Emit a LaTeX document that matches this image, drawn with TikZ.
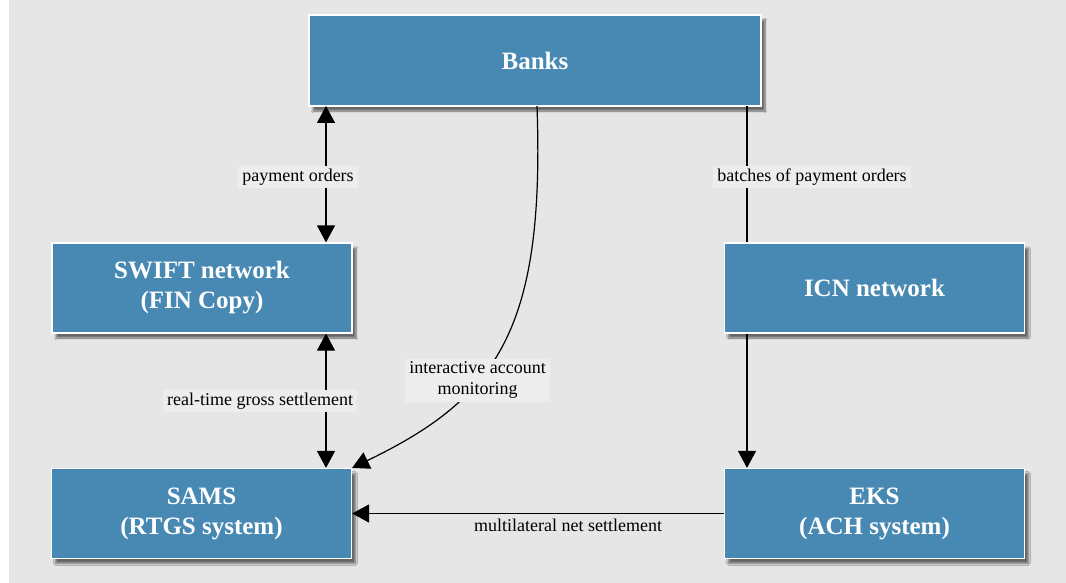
\documentclass[tikz,border=0pt]{standalone}
\usepackage{fontspec}
\setmainfont{Liberation Serif}
\usetikzlibrary{arrows.meta,shadows.blur}

\definecolor{boxblue}{HTML}{4889B4}
\definecolor{paper}{HTML}{E6E6E6}
\definecolor{labelbg}{HTML}{EDEDED}

\tikzset{
  sysbox/.style={draw=white, line width=1.2pt, fill=boxblue, text=white,
    font=\fontsize{25}{30}\selectfont\bfseries, align=center,
    minimum width=300pt, minimum height=90pt, inner sep=0pt,
    blur shadow={shadow xshift=4pt, shadow yshift=-5pt, shadow blur steps=8, shadow opacity=55}},
  edgelabel/.style={fill=labelbg, font=\fontsize{18}{21}\selectfont, align=center,
    inner xsep=4pt, inner ysep=3pt},
  link/.style={line width=1.2pt},
  tip/.style={-{Triangle[width=18pt,length=17pt]}},
  bothtips/.style={{Triangle[width=18pt,length=17pt]}-{Triangle[width=18pt,length=17pt]}}
}

\begin{document}
\begin{tikzpicture}[x=1pt, y=-1pt]
  \useasboundingbox (0,0) rectangle (1066,583);
  \fill[white] (0,0) rectangle (1066,583);
  \fill[paper] (9,0) rectangle (1066,583);

  % systems
  \node[sysbox, minimum width=452pt, minimum height=91pt] (banks) at (535,60.5) {Banks};
  \node[sysbox] (swift) at (202,288) {SWIFT network\\(FIN Copy)};
  \node[sysbox] (icn) at (874.5,288) {ICN network};
  \node[sysbox] (sams) at (201.5,513.5) {SAMS\\(RTGS system)};
  \node[sysbox] (eks) at (874.5,513.5) {EKS\\(ACH system)};

  % taps on the boxes
  \coordinate (bl) at (326,106);
  \coordinate (bm) at (537,106);
  \coordinate (br) at (747,106);

  % flows
  \draw[link, bothtips] (bl) -- (swift.north -| bl)
    node[midway, edgelabel, xshift=-28pt, yshift=-3pt] {payment orders};
  \draw[link, bothtips] (swift.south -| bl) -- (sams.north -| bl)
    node[midway, edgelabel, xshift=-66pt] {real-time gross settlement};
  \draw[link, tip] (bm) .. controls (545,330) and (497,398) ..
    node[pos=0.62, edgelabel] (mon) {interactive account\\monitoring} (sams.north east);
  \draw[link] (br) -- (icn.north -| br)
    node[midway, edgelabel, xshift=65pt, yshift=-3pt] {batches of payment orders};
  \draw[link, tip] (icn.south -| br) -- (eks.north -| br);
  \draw[link, tip] (eks.west) -- (sams.east)
    node[midway, below, font=\fontsize{18}{21}\selectfont, xshift=30pt, yshift=-2pt] {multilateral net settlement};
\end{tikzpicture}
\end{document}
